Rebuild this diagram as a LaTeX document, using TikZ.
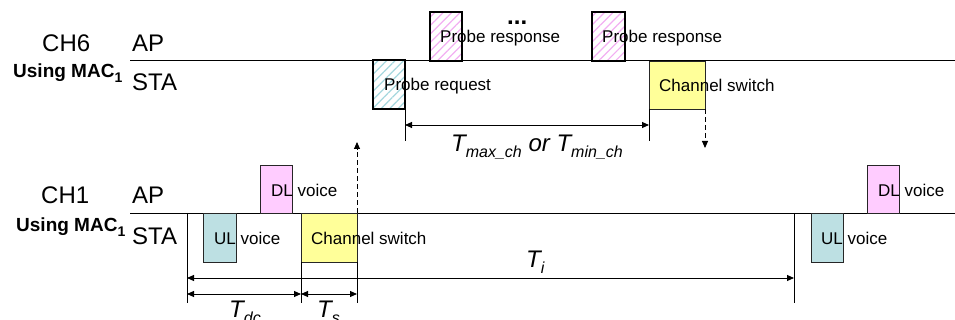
\documentclass[tikz,border=0pt]{standalone}
\usepackage{fontspec}
\setmainfont{Liberation Sans}
\usetikzlibrary{arrows.meta,patterns.meta}
\definecolor{ylw}{RGB}{255,255,153}
\definecolor{pnk}{RGB}{255,204,255}
\definecolor{cyn}{RGB}{189,224,227}
\definecolor{hpink}{RGB}{242,175,242}
\definecolor{hcyan}{RGB}{165,215,222}
\newcommand\sbx[1]{\raisebox{-6pt}{\fontsize{16}{16}\selectfont #1}}
\begin{document}
\begin{tikzpicture}[x=1pt,y=-1pt,
  frame/.style={draw=black!85, line width=0.8pt, inner sep=0pt, outer sep=0pt, anchor=north west},
  hatchbox/.style={draw=black, line width=1.8pt, inner sep=0pt, outer sep=0pt, anchor=north west},
  lbl/.style={font=\fontsize{17}{17}\selectfont, inner sep=0pt, anchor=base west},
  big/.style={font=\fontsize{24}{24}\selectfont, inner sep=0pt, anchor=base west},
  mac/.style={font=\bfseries\fontsize{19}{19}\selectfont, inner sep=0pt, anchor=base west},
  tl/.style={font=\itshape\fontsize{24}{24}\selectfont, inner sep=0pt, anchor=base west},
  dim/.style={line width=0.9pt, {Triangle[length=7pt,width=6pt]}-{Triangle[length=7pt,width=6pt]}},
  rdim/.style={line width=0.9pt, -{Triangle[length=7pt,width=6pt]}},
  tick/.style={line width=0.9pt},
  tline/.style={line width=0.9pt},
  dsh/.style={line width=0.9pt, dash pattern=on 5pt off 3pt, -{Triangle[length=7pt,width=6pt]}},
]
\useasboundingbox (0,0) rectangle (955,320);

% ---------- CH6 ----------
\node[big] (ch6) at (42,52) {CH6};
\node[big] (ap6) at (132,52) {AP};
\node[big] (sta6) at (132,91) {STA};
\node[mac] (mac6) at (13,78) {Using MAC\raisebox{-5pt}{\fontsize{14}{14}\selectfont 1}};
\coordinate (l6a) at (130,60);
\coordinate (l6b) at (955,60);
\draw[tline] (l6a) -- (l6b);

\node[hatchbox, minimum width=32pt, minimum height=49pt,
  pattern={Lines[angle=45,distance=6pt,line width=1.2pt]}, pattern color=hcyan] (preq) at (373,60) {};
\node[hatchbox, minimum width=32pt, minimum height=49pt,
  pattern={Lines[angle=45,distance=6pt,line width=1.2pt]}, pattern color=hpink] (presp1) at (430,12) {};
\node[hatchbox, minimum width=33pt, minimum height=49pt,
  pattern={Lines[angle=45,distance=6pt,line width=1.2pt]}, pattern color=hpink] (presp2) at (592,12) {};
\node[frame, fill=ylw, minimum width=56pt, minimum height=48pt] (cs6) at (649,61) {};

\node[lbl] (tpreq) at (384,91) {Probe request};
\node[lbl] (tresp1) at (440,43) {Probe response};
\node[lbl] (tresp2) at (602,43) {Probe response};
\node[font=\bfseries\fontsize{24}{24}\selectfont, inner sep=0pt, anchor=base west] (dots) at (507,25) {...};
\node[lbl] (tcs6) at (659,92) {Channel switch};

\coordinate (k1) at (405,141);
\coordinate (k2) at (649,141);
\draw[tick] (preq.south east) -- (k1);
\draw[tick] (cs6.south west) -- (k2);
\coordinate (a1) at (405,125);
\coordinate (a2) at (649,125);
\draw[dim] (a1) -- (a2);
\node[tl] (tmax) at (451,152) {T\sbx{max\_ch} or T\sbx{min\_ch}};
\coordinate (dn) at (705,148);
\draw[dsh] (cs6.south east) -- (dn);

% ---------- CH1 ----------
\node[big] (ch1) at (41,204) {CH1};
\node[big] (ap1) at (132,204) {AP};
\node[big] (sta1) at (132,244) {STA};
\node[mac] (mac1) at (16,232) {Using MAC\raisebox{-5pt}{\fontsize{14}{14}\selectfont 1}};
\coordinate (l1a) at (130,213);
\coordinate (l1b) at (955,213);
\draw[tline] (l1a) -- (l1b);

\node[frame, fill=pnk, minimum width=32pt, minimum height=48pt] (dl1) at (260,165) {};
\node[frame, fill=cyn, minimum width=33pt, minimum height=49pt] (ul1) at (203,213) {};
\node[frame, fill=ylw, minimum width=56pt, minimum height=49pt] (cs1) at (301,213) {};
\node[frame, fill=cyn, minimum width=32pt, minimum height=49pt] (ul2) at (811,213) {};
\node[frame, fill=pnk, minimum width=32pt, minimum height=48pt] (dl2) at (867,165) {};

\node[lbl] (tdl1) at (271,197) {DL voice};
\node[lbl] (tul1) at (214,245) {UL voice};
\node[lbl] (tcs1) at (311,245) {Channel switch};
\node[lbl] (tul2) at (821,245) {UL voice};
\node[lbl] (tdl2) at (878,197) {DL voice};

\coordinate (up) at (357,142);
\draw[dsh] (cs1.north east) -- (up);

\coordinate (v1a) at (187,213);
\coordinate (v1b) at (187,303);
\coordinate (v2) at (301,303);
\coordinate (v3) at (357,303);
\coordinate (v4a) at (794,213);
\coordinate (v4b) at (794,303);
\draw[tick] (v1a) -- (v1b);
\draw[tick] (cs1.south west) -- (v2);
\draw[tick] (cs1.south east) -- (v3);
\draw[tick] (v4a) -- (v4b);

\coordinate (ti1) at (187,278);
\coordinate (ti2) at (794,278);
\draw[dim] (ti1) -- (ti2);
\coordinate (td1) at (187,294);
\coordinate (td2) at (301,294);
\coordinate (td3) at (357,294);
\draw[dim] (td1) -- (td2);
\draw[dim] (td2) -- (td3);

\node[tl] (tti) at (526,267) {T\sbx{i}};
\node[tl] (ttdc) at (229,317) {T\sbx{dc}};
\node[tl] (tts) at (317,317) {T\sbx{s}};
\end{tikzpicture}
\end{document}
